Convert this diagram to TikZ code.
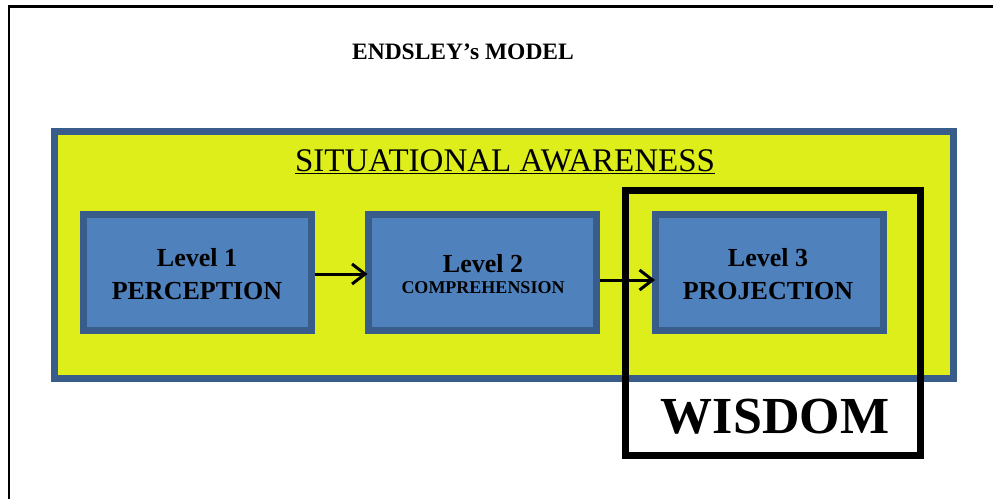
\documentclass[tikz,border=0pt]{standalone}
\usepackage{fontspec}
\setmainfont{Liberation Serif}
\usetikzlibrary{arrows.meta}
\definecolor{saYellow}{RGB}{221,238,26}
\definecolor{lvlFill}{RGB}{79,129,189}
\definecolor{lvlBorder}{RGB}{56,93,138}
\tikzset{
  levelbox/.style={draw=lvlBorder, fill=lvlFill, line width=7pt, minimum width=228pt, minimum height=116pt, inner sep=0pt, anchor=center},
  flowarrow/.style={line width=3pt, -{Straight Barb[length=13pt,width=20pt,line width=3pt]}},
}
\begin{document}
\begin{tikzpicture}[x=1pt,y=-1pt]
\useasboundingbox (0,0) rectangle (993,499);
\fill[white] (0,0) rectangle (993,499);
% page frame
\draw[line width=2.2pt] (9,499) -- (9,6.5) -- (993,6.5);
% title
\node[font=\fontsize{23.5}{28}\selectfont\bfseries] (title) at (463,52) {ENDSLEY’s MODEL};
% situational awareness box
\node[draw=lvlBorder, fill=saYellow, line width=7pt, minimum width=899pt, minimum height=247pt, inner sep=0pt] (sa) at (504,255) {};
\node[font=\fontsize{33}{38}\selectfont, inner sep=0pt] (satitle) at (505,162) {\underline{SITUATIONAL AWARENESS}};
% level boxes
\node[levelbox] (l1) at (197.5,272.5) {};
\node[levelbox] (l2) at (482,272.5) {};
\node[levelbox] (l3) at (769.5,272.5) {};
\node[font=\fontsize{26}{30}\selectfont\bfseries] (l1a) at (197,258) {Level 1};
\node[font=\fontsize{26}{30}\selectfont\bfseries] (l1b) at (197,291) {PERCEPTION};
\node[font=\fontsize{26}{30}\selectfont\bfseries] (l2a) at (483,264) {Level 2};
\node[font=\fontsize{18}{22}\selectfont\bfseries] (l2b) at (483,288) {COMPREHENSION};
\node[font=\fontsize{26}{30}\selectfont\bfseries] (l3a) at (768,258) {Level 3};
\node[font=\fontsize{26}{30}\selectfont\bfseries] (l3b) at (768,291) {PROJECTION};
% arrows
\coordinate (a1s) at (l1.east |- 0,274);
\coordinate (a1e) at ([xshift=3pt]l2.west |- 0,274);
\coordinate (a2s) at (l2.east |- 0,280);
\coordinate (a2e) at ([xshift=3pt]l3.west |- 0,280);
\draw[flowarrow] (a1s) -- (a1e);
\draw[flowarrow] (a2s) -- (a2e);
% wisdom box
\node[draw=black, line width=7pt, minimum width=295pt, minimum height=265pt, inner sep=0pt] (wis) at (773,323) {};
\node[font=\fontsize{52}{60}\selectfont\bfseries] (wisdom) at (775,417) {WISDOM};
\end{tikzpicture}
\end{document}
